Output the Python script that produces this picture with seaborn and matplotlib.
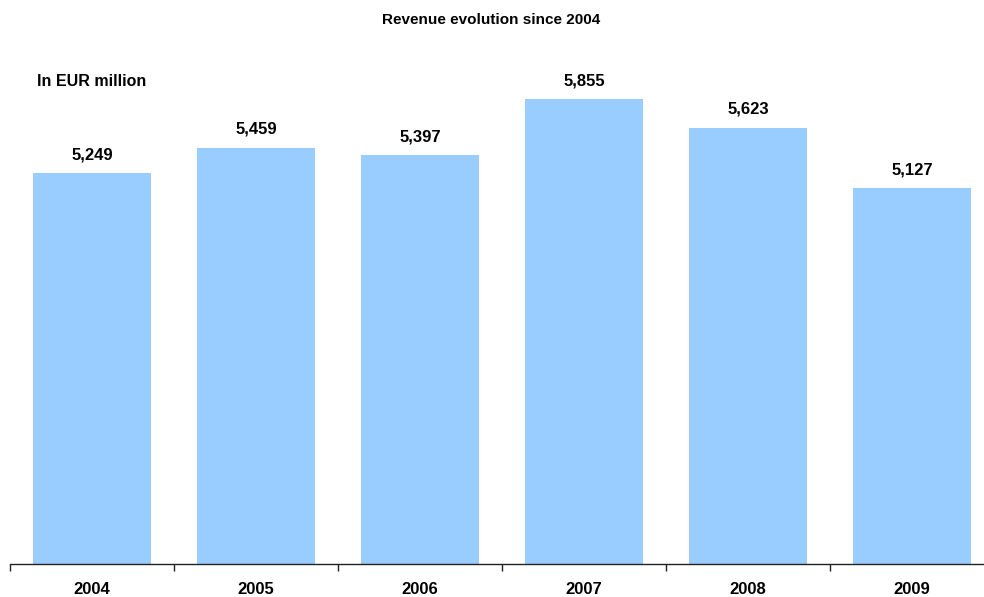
import pandas as pd
import numpy as np
import seaborn as sns
import matplotlib.pyplot as plt

years = ['2004', '2005', '2006', '2007', '2008', '2009']
revenue = [5249, 5459, 5397, 5855, 5623, 5127]

sns.set_style('white')
plt.rcParams['font.family'] = ['Liberation Sans', 'DejaVu Sans']
plt.rcParams['text.color'] = 'black'
plt.rcParams['xtick.color'] = 'black'

df = pd.DataFrame({'year': years, 'revenue': revenue})

fig = plt.figure(figsize=(9.84, 5.97), dpi=100)
W, H = 984, 597
ax = fig.add_axes([10 / W, (H - 564) / H, 974 / W, 504 / H])

sns.barplot(data=df, x='year', y='revenue', color='#99CCFF', saturation=1,
            width=0.72, linewidth=0, edgecolor='none', ax=ax)

ax.set_ylim(2050, 6178)
ax.set_xlim(-0.5, 5.44)

for i, v in enumerate(revenue):
    ax.annotate(f'{v:,}', (i, v), xytext=(0, 8), textcoords='offset points',
                ha='center', va='bottom', fontsize=12, fontweight='bold',
                color='black')

for s in ['top', 'right', 'left']:
    ax.spines[s].set_visible(False)
ax.spines['bottom'].set_color('#222222')
ax.spines['bottom'].set_linewidth(1)

ax.set_yticks([])
ax.set_xticks(np.arange(-0.5, 5.5, 1), minor=True)
ax.tick_params(axis='x', which='major', bottom=True, length=0, labelsize=12,
               pad=13, labelcolor='black')
ax.tick_params(axis='x', which='minor', bottom=True, length=5, width=1,
               color='#222222', direction='out')
for lab in ax.get_xticklabels():
    lab.set_fontweight('bold')
ax.set_xlabel('')
ax.set_ylabel('')

fig.text(491 / W, 1 - 20 / H, 'Revenue evolution since 2004', ha='center', va='center',
         fontsize=11, fontweight='bold', color='black')
fig.text(37 / W, 1 - 82 / H, 'In EUR million', ha='left', va='center',
         fontsize=11.5, fontweight='bold', color='black')

fig.savefig('out.png', dpi=100)
